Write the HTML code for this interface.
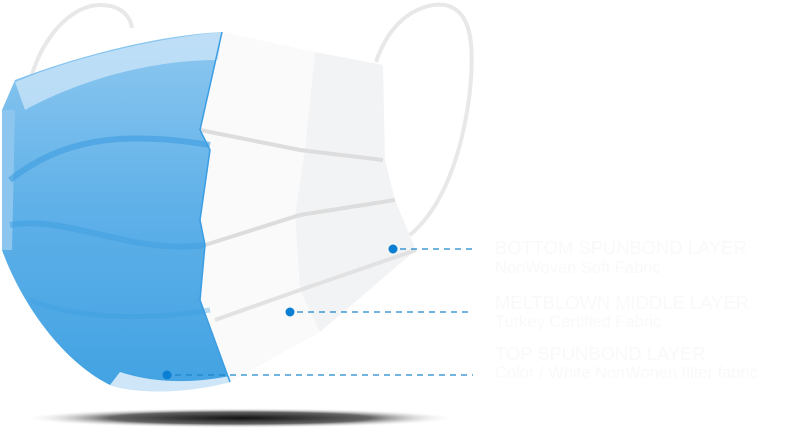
<!DOCTYPE html>
<html><head><style>
html,body{margin:0;padding:0;background:#fff;}
body{width:808px;height:433px;position:relative;overflow:hidden;font-family:"Liberation Sans",sans-serif;}
.t{position:absolute;left:495px;color:#f9f9f9;font-size:18.4px;white-space:nowrap;}
.s{position:absolute;left:495px;color:#f9f9f9;font-size:16.5px;white-space:nowrap;}
</style></head><body>
<svg width="808" height="433" style="position:absolute;left:0;top:0">
<defs>
<radialGradient id="sh" cx="0.5" cy="0.5" r="0.5">
<stop offset="0" stop-color="#111"/><stop offset="0.6" stop-color="#666"/><stop offset="1" stop-color="#fff" stop-opacity="0"/></radialGradient>
<linearGradient id="bl" x1="0" y1="0" x2="0" y2="1">
<stop offset="0" stop-color="#8ec8f0"/><stop offset="0.5" stop-color="#5eb0e8"/><stop offset="1" stop-color="#42a2e2"/></linearGradient>
</defs>
<ellipse cx="240" cy="418" rx="218" ry="10" fill="url(#sh)"/>
<path d="M30 82 C40 40 70 5 100 5 C120 5 130 15 132 28" fill="none" stroke="#e8e8e8" stroke-width="4"/>
<path d="M376 62 C390 20 420 2 445 5 C470 10 475 40 470 90 C462 160 440 210 410 235" fill="none" stroke="#e8e8e8" stroke-width="4"/>
<path d="M383 65 L385 160 L395 200 L416 250 L320 332 L300 290 L295 215 L305 150 L315 52 Z" fill="#f2f3f5"/>
<path d="M222 32 L315 52 L305 150 L295 215 L300 290 L320 332 L230 382 L200 300 L205 245 L200 220 L210 150 L200 130 Z" fill="#fafafa"/>
<path d="M15 80 C80 55 160 35 222 32 L200 130 L210 150 L200 220 L205 245 L200 300 L230 382 C190 392 140 395 110 385 C60 360 20 300 2 250 L3 185 L2 110 Z" fill="url(#bl)"/>
<path d="M15 82 C80 55 160 38 222 32 L218 60 C150 60 80 80 25 110 Z" fill="#c9e4f8" opacity="0.8"/>
<path d="M2 110 L15 110 L12 250 L2 250 Z" fill="#8cc6ee"/>
<path d="M120 372 C160 385 200 382 230 376 L230 382 C190 393 140 395 110 385 Z" fill="#cfe6f8"/>
<path d="M10 180 C60 140 120 130 210 145" fill="none" stroke="#3d9de0" stroke-width="6" opacity="0.6"/>
<path d="M10 225 C70 215 130 255 205 245" fill="none" stroke="#3d9de0" stroke-width="6" opacity="0.5"/>
<path d="M30 300 C80 320 150 320 210 310" fill="none" stroke="#3d9de0" stroke-width="5" opacity="0.35"/>
<path d="M200 130 L300 150 L383 160" fill="none" stroke="#ddd" stroke-width="4"/>
<path d="M205 245 L300 215 L395 200" fill="none" stroke="#ddd" stroke-width="4"/>
<path d="M215 320 L300 290 L416 250" fill="none" stroke="#e2e2e2" stroke-width="4"/>
<path d="M222 32 L200 130 L210 150 L200 220 L205 245 L200 300 L230 382" fill="none" stroke="#3b9de3" stroke-width="1.5"/>
<g stroke="#1a86cc" stroke-width="1.3" stroke-dasharray="6 5" fill="none">
<line x1="400" y1="249" x2="473" y2="249"/>
<line x1="297" y1="312" x2="473" y2="312"/>
<line x1="175" y1="375" x2="473" y2="375"/>
</g>
<g fill="#0b7fd1"><circle cx="393" cy="249" r="4.5"/><circle cx="290" cy="312" r="4.5"/><circle cx="167" cy="375" r="4.5"/></g>
</svg>
<div class="t" style="top:237px">BOTTOM SPUNBOND LAYER</div>
<div class="s" style="top:259px">NonWoven Soft Fabric</div>
<div class="t" style="top:292px">MELTBLOWN MIDDLE LAYER</div>
<div class="s" style="top:313px">Turkey Certified Fabric</div>
<div class="t" style="top:343px">TOP SPUNBOND LAYER</div>
<div class="s" style="top:364px">Color / White NonWonen filter fabric</div>
</body></html>
